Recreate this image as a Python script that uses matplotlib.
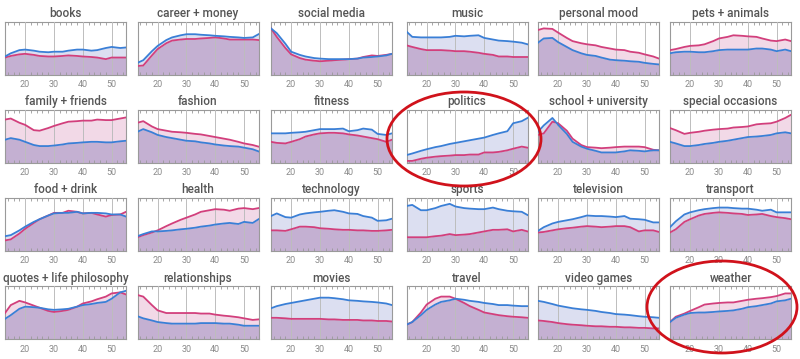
import matplotlib
matplotlib.use("Agg")
import matplotlib.pyplot as plt
from matplotlib.patches import Ellipse
from matplotlib.ticker import MultipleLocator
import numpy as np

plt.rcParams['font.family'] = ['Roboto', 'DejaVu Sans']

AGES = [13, 15, 18, 20, 23, 25, 28, 30, 33, 35, 38, 40, 43, 45, 48, 50, 53, 55]

TOPICS = ["books", "career + money", "social media", "music", "personal mood", "pets + animals",
          "family + friends", "fashion", "fitness", "politics", "school + university", "special occasions",
          "food + drink", "health", "technology", "sports", "television", "transport",
          "quotes + life philosophy", "relationships", "movies", "travel", "video games", "weather"]

# blue = men, pink = women (fraction of panel height)
books_blue = [.34, .40, .46, .47, .45, .43, .42, .43, .43, .45, .47, .47, .45, .46, .50, .52, .50, .51]
books_pink = [.32, .35, .38, .39, .37, .35, .34, .34, .35, .36, .35, .34, .33, .32, .29, .32, .32, .32]
career_blue = [.22, .27, .44, .54, .65, .70, .74, .76, .76, .75, .74, .73, .72, .71, .70, .69, .70, .76]
career_pink = [.16, .17, .36, .48, .59, .64, .66, .67, .67, .68, .69, .70, .68, .66, .66, .66, .66, .65]
social_blue = [.87, .78, .58, .43, .37, .34, .31, .30, .29, .29, .29, .29, .30, .32, .33, .34, .36, .39]
social_pink = [.87, .71, .50, .38, .31, .28, .26, .25, .26, .27, .28, .29, .30, .33, .36, .35, .37, .39]
music_blue = [.81, .71, .70, .70, .70, .70, .71, .73, .72, .73, .74, .69, .66, .64, .63, .62, .60, .57]
music_pink = [.55, .52, .48, .46, .46, .46, .45, .44, .44, .43, .41, .39, .37, .34, .34, .33, .33, .33]
mood_blue = [.60, .68, .69, .61, .52, .46, .40, .37, .35, .32, .28, .27, .26, .25, .24, .22, .20, .19]
mood_pink = [.84, .87, .86, .79, .69, .63, .59, .57, .55, .52, .49, .47, .46, .43, .41, .38, .34, .30]
pets_blue = [.40, .42, .43, .43, .42, .42, .44, .46, .47, .47, .47, .47, .49, .49, .47, .44, .47, .44]
pets_pink = [.46, .48, .52, .54, .55, .57, .63, .68, .71, .74, .73, .72, .71, .68, .64, .63, .66, .63]
family_blue = [.43, .46, .43, .39, .33, .31, .31, .32, .34, .36, .37, .38, .39, .39, .38, .38, .40, .41]
family_pink = [.81, .83, .75, .71, .61, .60, .65, .69, .74, .77, .78, .79, .79, .81, .80, .80, .83, .85]
fashion_blue = [.58, .63, .57, .52, .48, .46, .43, .41, .40, .38, .36, .34, .32, .31, .30, .28, .25, .21]
fashion_pink = [.75, .78, .68, .63, .60, .58, .57, .56, .54, .53, .50, .48, .45, .43, .39, .36, .33, .30]
fitness_blue = [.55, .55, .55, .56, .57, .58, .61, .63, .63, .63, .64, .59, .61, .64, .62, .54, .52, .55]
fitness_pink = [.39, .37, .36, .39, .44, .49, .53, .55, .56, .56, .55, .53, .51, .49, .46, .44, .39, .43]
politics_blue = [.14, .17, .22, .25, .29, .31, .35, .37, .40, .42, .45, .47, .52, .55, .59, .74, .78, .84]
politics_pink = [.03, .03, .07, .09, .11, .12, .13, .14, .14, .15, .15, .19, .19, .20, .23, .26, .30, .28]
school_blue = [.58, .70, .84, .71, .54, .39, .30, .26, .22, .19, .19, .19, .21, .23, .22, .21, .23, .23]
school_pink = [.52, .55, .77, .74, .60, .45, .33, .29, .28, .27, .28, .29, .30, .30, .30, .29, .24, .23]
special_blue = [.39, .36, .31, .31, .33, .35, .37, .39, .41, .43, .46, .48, .49, .50, .52, .55, .57, .55]
special_pink = [.65, .61, .54, .56, .58, .60, .62, .63, .64, .66, .67, .68, .72, .73, .74, .77, .84, .90]
food_blue = [.27, .29, .38, .45, .54, .59, .66, .70, .71, .71, .73, .70, .71, .71, .70, .68, .68, .64]
food_pink = [.19, .21, .32, .41, .52, .59, .66, .71, .71, .75, .73, .70, .71, .68, .64, .67, .68, .73]
health_blue = [.27, .31, .36, .36, .37, .38, .40, .41, .43, .45, .47, .49, .51, .52, .50, .54, .52, .59]
health_pink = [.25, .29, .34, .38, .46, .51, .58, .62, .68, .73, .76, .78, .77, .75, .79, .80, .78, .80]
tech_blue = [.65, .70, .63, .62, .68, .70, .72, .73, .75, .76, .73, .70, .69, .65, .62, .56, .57, .60]
tech_pink = [.38, .38, .37, .40, .45, .45, .44, .42, .41, .40, .39, .39, .38, .38, .37, .37, .38, .39]
sports_blue = [.84, .86, .76, .76, .80, .84, .88, .83, .80, .79, .78, .78, .81, .78, .75, .74, .73, .67]
sports_pink = [.25, .25, .25, .25, .27, .28, .31, .29, .30, .31, .34, .36, .39, .39, .40, .36, .39, .36]
tv_blue = [.37, .44, .51, .54, .57, .59, .63, .66, .65, .65, .64, .63, .65, .60, .59, .58, .53, .53]
tv_pink = [.34, .35, .38, .40, .42, .43, .45, .46, .45, .44, .45, .46, .46, .44, .36, .38, .38, .35]
transport_blue = [.44, .55, .68, .72, .76, .78, .80, .81, .81, .80, .79, .79, .77, .75, .77, .72, .72, .72]
transport_pink = [.34, .40, .54, .59, .66, .69, .71, .72, .71, .70, .69, .67, .68, .69, .65, .63, .61, .59]
quotes_blue = [.38, .45, .57, .61, .60, .59, .56, .55, .56, .57, .61, .64, .66, .68, .70, .76, .88, .91]
quotes_pink = [.49, .64, .72, .69, .63, .59, .53, .51, .53, .55, .61, .67, .71, .75, .80, .86, .88, .84]
relation_blue = [.43, .39, .35, .32, .30, .29, .29, .29, .29, .30, .30, .30, .29, .29, .27, .25, .25, .25]
relation_pink = [.83, .80, .64, .54, .49, .49, .49, .49, .49, .48, .48, .46, .44, .43, .41, .39, .36, .37]
movies_blue = [.58, .62, .66, .68, .71, .73, .76, .78, .78, .77, .75, .73, .72, .71, .70, .69, .67, .64]
movies_pink = [.40, .40, .39, .38, .38, .38, .38, .38, .37, .37, .36, .36, .36, .35, .35, .34, .34, .33]
travel_blue = [.27, .32, .45, .55, .65, .70, .73, .76, .74, .72, .70, .68, .66, .64, .64, .63, .62, .62]
travel_pink = [.27, .32, .50, .65, .76, .80, .80, .76, .68, .62, .55, .50, .47, .45, .43, .42, .41, .40]
games_blue = [.72, .70, .66, .63, .60, .58, .56, .55, .53, .51, .49, .47, .46, .45, .43, .42, .41, .40]
games_pink = [.35, .34, .32, .30, .28, .27, .26, .25, .24, .24, .23, .23, .22, .22, .21, .21, .20, .20]
weather_blue = [.32, .40, .46, .49, .50, .50, .51, .52, .53, .54, .57, .60, .62, .64, .67, .71, .73, .76]
weather_pink = [.32, .42, .48, .53, .60, .65, .67, .68, .69, .69, .72, .74, .76, .77, .79, .81, .86, .86]

BLUE = [books_blue, career_blue, social_blue, music_blue, mood_blue, pets_blue,
        family_blue, fashion_blue, fitness_blue, politics_blue, school_blue, special_blue,
        food_blue, health_blue, tech_blue, sports_blue, tv_blue, transport_blue,
        quotes_blue, relation_blue, movies_blue, travel_blue, games_blue, weather_blue]
PINK = [books_pink, career_pink, social_pink, music_pink, mood_pink, pets_pink,
        family_pink, fashion_pink, fitness_pink, politics_pink, school_pink, special_pink,
        food_pink, health_pink, tech_pink, sports_pink, tv_pink, transport_pink,
        quotes_pink, relation_pink, movies_pink, travel_pink, games_pink, weather_pink]
XTICKS = [20, 30, 40, 50]

W, H = 800, 359
fig = plt.figure(figsize=(W / 100, H / 100), dpi=100)
fig.patch.set_facecolor("white")

col_left = [5, 137.5, 271, 406.5, 538, 670]
ax_w = 121
row_top = [21.5, 109.5, 197.5, 286]
ax_h = 53

c_blue = "#3a7fd6"
c_pink = "#d23f7c"
f_both = "#c4b0d2"
f_pink = "#f2d9e7"
f_blue = "#dcdff1"

x = np.array(AGES, dtype=float)
for i, name in enumerate(TOPICS):
    r, c = divmod(i, 6)
    ax = fig.add_axes([col_left[c] / W, 1 - (row_top[r] + ax_h) / H, ax_w / W, ax_h / H])
    b = np.array(BLUE[i]); p = np.array(PINK[i])
    ax.fill_between(x, 0, np.minimum(b, p), color=f_both, lw=0, zorder=1)
    ax.fill_between(x, b, p, where=p >= b, interpolate=True, color=f_pink, lw=0, zorder=1)
    ax.fill_between(x, p, b, where=b > p, interpolate=True, color=f_blue, lw=0, zorder=1)
    ax.plot(x, p, color=c_pink, lw=1.3, zorder=3)
    ax.plot(x, b, color=c_blue, lw=1.3, zorder=3)
    ax.set_xlim(13, 55)
    ax.set_ylim(0, 1)
    ax.set_xticks(XTICKS)
    ax.set_xticklabels([str(t) for t in XTICKS])
    ax.xaxis.set_minor_locator(MultipleLocator(2))
    ax.set_yticks([])
    ax.grid(axis="x", which="major", color="#bdbdbd", lw=0.7, zorder=2)
    ax.set_axisbelow(False)
    ax.tick_params(axis="x", which="major", length=0, labelsize=6.5, labelcolor="#8a8a8a", pad=4)
    ax.tick_params(axis="x", which="minor", direction="in", length=2, color="#999999",
                   top=True, bottom=True, width=0.6)
    for s in ax.spines.values():
        s.set_color("#9a9a9a")
        s.set_linewidth(0.8)
    ax.set_title(name, fontsize=8.5, color="#555555", fontweight="medium", pad=3)
    ax.patch.set_facecolor("white")

# red highlight ellipses (figure pixel coordinates)
for cx, cy, ew, eh in [(464, 139, 154, 94), (722, 307, 150, 92)]:
    e = Ellipse((cx / W, 1 - cy / H), ew / W, eh / H, transform=fig.transFigure,
                fill=False, edgecolor="#d0121b", lw=2.0, clip_on=False, zorder=10)
    fig.add_artist(e)

fig.savefig("out.png", dpi=100, facecolor="white")
